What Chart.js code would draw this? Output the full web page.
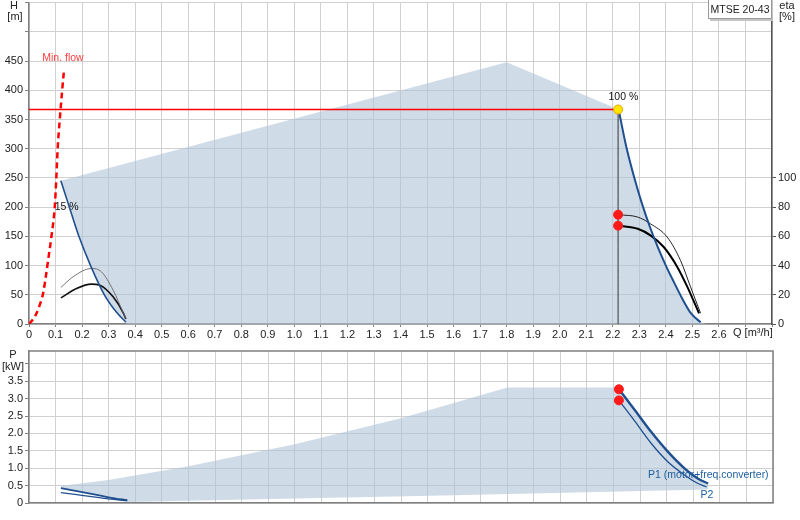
<!DOCTYPE html>
<html>
<head>
<meta charset="utf-8">
<script src="https://cdn.jsdelivr.net/npm/chart.js@4.4.0/dist/chart.umd.min.js"></script>
<style>
  html, body { margin: 0; padding: 0; background: #fff; }
  #wrap { position: relative; width: 800px; height: 520px; }
  #topChart { position: absolute; left: 0; top: 0; }
  #botChart { position: absolute; left: 0; top: 340px; }
</style>
</head>
<body>
<div id="wrap">
  <canvas id="topChart" width="800" height="340"></canvas>
  <canvas id="botChart" width="800" height="180"></canvas>
</div>
<script>
// ---- H/Q curves (top chart) ----
var minFlowQ = [0, 0.015, 0.028, 0.04, 0.053, 0.063, 0.072, 0.084, 0.097, 0.103, 0.108, 0.116, 0.125, 0.132];
var minFlowH = [0, 8, 18, 32, 52, 80, 109, 148, 200, 250, 300, 350, 400, 435];

var minSpeedQ = [0.12, 0.152, 0.188, 0.232, 0.284, 0.33, 0.365];
var minSpeedH = [245, 200, 150, 100, 50, 20, 3];

var maxSpeedQ = [2.222, 2.25, 2.28, 2.31, 2.34, 2.37, 2.40, 2.43, 2.46, 2.495, 2.531];
var maxSpeedH = [367, 305, 252, 206, 166, 131, 100, 72, 45, 18, 3];

// operating range outline (top edge and bottom corners)
var rangeTopQ = [0.12, 1.8, 2.222];
var rangeTopH = [245, 448, 367];
var rangeBottomQ = [2.552, 0.367];
var rangeBottomH = [0, 0];

var dutyQ = 2.22;
var dutyH = 367;

// ---- eta curves (right axis) ----
var etaMinThinQ = [0.12, 0.166, 0.235, 0.273, 0.317, 0.356, 0.365];
var etaMinThin  = [25, 32.3, 38, 35.7, 23.2, 7.3, 3.9];
var etaMinThickQ = [0.12, 0.179, 0.235, 0.267, 0.317, 0.356, 0.365];
var etaMinThick  = [17.9, 24.3, 27.3, 26.6, 18.6, 7.3, 3.5];

var etaMaxThinQ = [2.222, 2.294, 2.342, 2.405, 2.455, 2.493, 2.531];
var etaMaxThin  = [74.8, 73.2, 68.6, 59.5, 43.6, 25.4, 7.3];
var etaMaxThickQ = [2.222, 2.294, 2.342, 2.392, 2.443, 2.481, 2.525];
var etaMaxThick  = [67.3, 65.2, 60.7, 52.7, 39.1, 25.4, 7.3];

// ---- power curves (bottom chart) ----
var p1MaxQ = [2.22, 2.279, 2.342, 2.405, 2.468, 2.518, 2.556];
var p1Max  = [3.27, 2.68, 2.04, 1.47, 0.99, 0.70, 0.56];
var p2MaxQ = [2.22, 2.279, 2.342, 2.405, 2.468, 2.518, 2.55];
var p2Max  = [2.95, 2.36, 1.71, 1.18, 0.80, 0.56, 0.46];

var pMinQ = [0.12, 0.18, 0.25, 0.31, 0.37];
var p1Min = [0.43, 0.34, 0.24, 0.15, 0.08];
var p2Min = [0.30, 0.24, 0.17, 0.11, 0.06];

var pRangeTopQ = [0.12, 0.3, 0.6, 1.0, 1.4, 1.8, 2.22];
var pRangeTopP = [0.49, 0.66, 1.06, 1.69, 2.44, 3.32, 3.32];
var pRangeBottomQ = [2.556, 1.6, 1.0, 0.37];
var pRangeBottomP = [0.39, 0.22, 0.13, 0.03];

var dutyP = [3.27, 2.95];
var dutyEta = [74.8, 67.3];

// ---- helpers / styles ----
var fontFamily = '"Liberation Sans", Arial, sans-serif';
Chart.defaults.font.family = fontFamily;
Chart.defaults.font.size = 11;
Chart.defaults.color = '#222';

var gridColor = '#d0d0d0';
var axisColor = '#808080';
var shadeColor = 'rgba(175,195,213,0.6)';
var curveBlue = '#1f4f8f';

function pts(xs, ys) {
  return xs.map(function(x, i) { return { x: x, y: ys[i] }; });
}

function curve(data, color, width, axis, extra) {
  var ds = {
    data: data, borderColor: color, borderWidth: width, pointRadius: 0,
    cubicInterpolationMode: 'monotone', fill: false, yAxisID: axis || 'y', order: 1
  };
  for (var k in extra) ds[k] = extra[k];
  return ds;
}

function shade(data) {
  return {
    data: data, borderColor: 'transparent', borderWidth: 0, pointRadius: 0,
    backgroundColor: shadeColor, fill: 'shape', tension: 0, order: 10
  };
}

function dots(data, axis, fill, border) {
  return {
    data: data, showLine: false, pointRadius: 4.5, pointBackgroundColor: fill,
    pointBorderColor: border, pointBorderWidth: 1, yAxisID: axis || 'y', order: 0, clip: false
  };
}

// labels above the last shown tick get a tiny font so they add no top padding
function tickFont(limit) {
  return function(c) { return { size: c.tick && c.tick.value > limit ? 1 : 11 }; };
}

// text drawn at data positions
function textPlugin(items) {
  return {
    id: 'texts',
    afterDatasetsDraw: function(chart) {
      var ctx = chart.ctx;
      ctx.save();
      ctx.font = '10.5px ' + fontFamily;
      ctx.textBaseline = 'middle';
      items.forEach(function(it) {
        ctx.fillStyle = it.color;
        ctx.textAlign = it.align;
        ctx.fillText(it.text, chart.scales.x.getPixelForValue(it.q), chart.scales[it.axis].getPixelForValue(it.v));
      });
      ctx.restore();
    }
  };
}

function unitPlugin(items, extra) {
  return {
    id: 'units',
    afterDraw: function(chart) {
      var ctx = chart.ctx;
      ctx.save();
      if (extra) extra(chart, ctx);
      ctx.font = '11px ' + fontFamily;
      ctx.fillStyle = '#222';
      ctx.textBaseline = 'middle';
      items.forEach(function(it) {
        ctx.textAlign = it[3] || 'center';
        ctx.fillText(it[0], it[1], it[2]);
      });
      ctx.restore();
    }
  };
}

function qLabel(v) {
  var r = Math.round(v * 10) / 10;
  if (r <= 2.6) return r === 0 ? '0' : r.toFixed(1);
  return '';
}

// ---- top chart ----
var hShape = [].concat(
  pts(rangeTopQ, rangeTopH),
  pts(maxSpeedQ, maxSpeedH).slice(1),
  pts(rangeBottomQ, rangeBottomH),
  pts(minSpeedQ, minSpeedH).reverse()
);

new Chart(document.getElementById('topChart'), {
  type: 'line',
  data: {
    datasets: [
      dots([{ x: dutyQ, y: dutyH }], 'y', '#ffe800', '#f0a000'),
      dots(pts([dutyQ, dutyQ], dutyEta), 'y1', '#ff1a1a', '#ff1a1a'),
      curve(pts(minFlowQ, minFlowH), '#ff0000', 2.5, 'y', { borderDash: [6, 4] }),
      curve(pts([0, dutyQ], [dutyH, dutyH]), '#ff0000', 1.5, 'y', { tension: 0 }),
      curve(pts([dutyQ, dutyQ], [dutyH, 0]), '#333', 1, 'y', { tension: 0 }),
      curve(pts(minSpeedQ, minSpeedH), curveBlue, 1.6),
      curve(pts(maxSpeedQ, maxSpeedH), curveBlue, 2),
      curve(pts(etaMinThinQ, etaMinThin), '#666', 0.9, 'y1'),
      curve(pts(etaMinThickQ, etaMinThick), '#111', 1.6, 'y1'),
      curve(pts(etaMaxThinQ, etaMaxThin), '#222', 1, 'y1'),
      curve(pts(etaMaxThickQ, etaMaxThick), '#000', 2, 'y1'),
      shade(hShape)
    ]
  },
  options: {
    responsive: false,
    animation: false,
    layout: { autoPadding: false, padding: { top: 0, left: 0, right: 0, bottom: 0 } },
    plugins: { legend: { display: false }, tooltip: { enabled: false } },
    scales: {
      x: {
        type: 'linear', min: 0, max: 2.8,
        afterFit: function(s) { s.height = 16; },
        grid: { color: gridColor, tickLength: 3, tickColor: axisColor },
        border: { color: axisColor, width: 1.5 },
        ticks: { stepSize: 0.1, autoSkip: false, maxRotation: 0, minRotation: 0, padding: 1, color: '#222', callback: qLabel }
      },
      y: {
        min: 0, max: 550,
        afterFit: function(s) { s.width = 29; },
        grid: { color: gridColor, tickLength: 4, tickColor: axisColor },
        border: { color: axisColor, width: 1.5 },
        ticks: { stepSize: 50, padding: 2, color: '#222', font: tickFont(450),
          callback: function(v) { return v <= 450 ? v : ''; } }
      },
      y1: {
        position: 'right', min: 0, max: 220,
        afterFit: function(s) { s.width = 28; },
        grid: { drawOnChartArea: false, tickLength: 4,
          tickColor: function(c) { return c.tick && c.tick.value > 100 ? 'rgba(0,0,0,0)' : '#555'; } },
        border: { color: '#555', width: 1.5 },
        ticks: { stepSize: 20, padding: 2, color: '#222', font: tickFont(100),
          callback: function(v) { return v <= 100 ? v : ''; } }
      }
    }
  },
  plugins: [
    textPlugin([
      { text: 'Min. flow', q: 0.128, v: 455, axis: 'y', color: '#ff4040', align: 'center' },
      { text: '15 %', q: 0.097, v: 200, axis: 'y', color: '#111', align: 'left' },
      { text: '100 %', q: 2.24, v: 389, axis: 'y', color: '#111', align: 'center' }
    ]),
    unitPlugin([['H', 14, 6], ['[m]', 15, 17], ['eta', 787, 6], ['[%]', 787, 17], ['Q [m\u00b3/h]', 733, 333, 'left']],
      function(chart, ctx) {
        // model name box
        ctx.fillStyle = '#c4c4c4';
        ctx.fillRect(710, 0, 63, 21);
        ctx.fillStyle = '#fff';
        ctx.fillRect(708, 0, 63, 19);
        ctx.strokeStyle = '#999';
        ctx.lineWidth = 1;
        ctx.strokeRect(708.5, -0.5, 63, 19);
        ctx.font = '10.5px ' + fontFamily;
        ctx.fillStyle = '#222';
        ctx.textAlign = 'center';
        ctx.textBaseline = 'middle';
        ctx.fillText('MTSE 20-43', 740, 10);
      })
  ]
});

// ---- bottom chart ----
var pShape = [].concat(
  pts(pRangeTopQ, pRangeTopP),
  pts(p1MaxQ, p1Max).slice(1),
  pts(pRangeBottomQ, pRangeBottomP),
  pts(pMinQ, p1Min).reverse()
);

new Chart(document.getElementById('botChart'), {
  type: 'line',
  data: {
    datasets: [
      dots(pts([dutyQ, dutyQ], dutyP), 'y', '#ff1a1a', '#ff1a1a'),
      curve(pts(p1MaxQ, p1Max), curveBlue, 2.4),
      curve(pts(p2MaxQ, p2Max), curveBlue, 1.3),
      curve(pts(pMinQ, p1Min), curveBlue, 1.8),
      curve(pts(pMinQ, p2Min), curveBlue, 1.2),
      shade(pShape)
    ]
  },
  options: {
    responsive: false,
    animation: false,
    layout: { autoPadding: false, padding: { top: 11, left: 0, right: 27, bottom: 0 } },
    plugins: { legend: { display: false }, tooltip: { enabled: false } },
    scales: {
      x: {
        type: 'linear', min: 0, max: 2.8,
        afterFit: function(s) { s.height = 17; },
        grid: { color: gridColor, drawTicks: false },
        border: { color: axisColor, width: 1.5 },
        ticks: { display: false, stepSize: 0.1, autoSkip: false }
      },
      y: {
        min: 0, max: 4.37,
        afterFit: function(s) { s.width = 29; },
        grid: { color: gridColor, tickLength: 4, tickColor: axisColor },
        border: { color: axisColor, width: 1.5 },
        ticks: {
          stepSize: 0.5, includeBounds: false, padding: 2, color: '#222',
          callback: function(v) { return v > 3.5 ? '' : (v === 0 ? '0' : v.toFixed(1)); }
        }
      }
    }
  },
  plugins: [
    textPlugin([
      { text: 'P1 (motor+freq.converter)', q: 2.33, v: 0.80, axis: 'y', color: '#1f5fa0', align: 'left' },
      { text: 'P2', q: 2.527, v: 0.22, axis: 'y', color: '#1f5fa0', align: 'left' }
    ]),
    unitPlugin([['P', 13, 15], ['[kW]', 13, 27]], function(chart, ctx) {
      var a = chart.chartArea;
      ctx.strokeStyle = axisColor;
      ctx.lineWidth = 1.5;
      ctx.beginPath();
      ctx.moveTo(a.left, a.top);
      ctx.lineTo(a.right, a.top);
      ctx.lineTo(a.right, a.bottom);
      ctx.stroke();
    })
  ]
});
</script>
</body>
</html>
